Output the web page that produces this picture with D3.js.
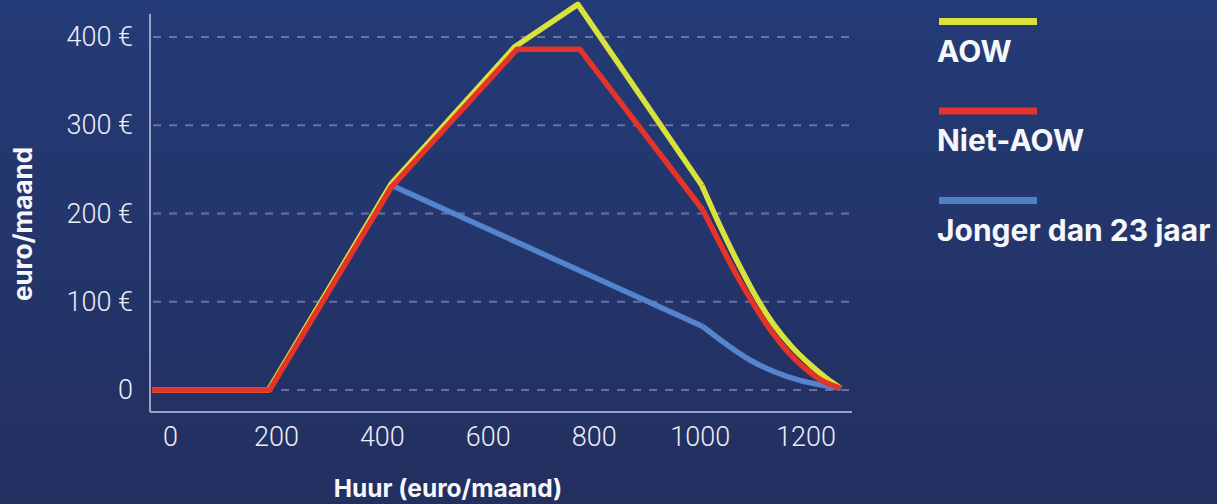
<!DOCTYPE html>
<html>
<head>
<meta charset="utf-8">
<script src="https://cdn.jsdelivr.net/npm/d3@7"></script>
<style>
  body { margin: 0; background: #23376f; }
  svg { display: block; }
</style>
</head>
<body>
<svg id="chart" width="1217" height="504"></svg>
<script>
// huur (x) en toeslag (y) per groep
const huurAOW   = [-34, 186, 418, 651, 770, 1004, 1040, 1075, 1108, 1140, 1174, 1208, 1240, 1266];
const aow       = [0, 0, 234, 389, 437, 232, 184, 141, 104, 74, 49, 29, 13, 2];
const huurNiet  = [-34, 188, 418, 655, 774, 1006, 1040, 1070, 1100, 1135, 1167, 1200, 1233, 1266];
const nietAOW   = [0, 0, 230, 386, 386, 204, 164, 130, 99, 67, 43, 24, 10, 2];
const huurJong  = [418, 1006, 1050, 1095, 1140, 1189, 1236, 1266];
const jong      = [232, 72, 52, 34, 21, 11, 5, 2];

const xTicks = [0, 200, 400, 600, 800, 1000, 1200];
const yTicks = [0, 100, 200, 300, 400];
const legendLabels = ["AOW", "Niet-AOW", "Jonger dan 23 jaar"];

const series = [
  { name: "AOW", xs: huurAOW, ys: aow, color: "#d9e23b" },
  { name: "Jonger dan 23 jaar", xs: huurJong, ys: jong, color: "#5484cc" },
  { name: "Niet-AOW", xs: huurNiet, ys: nietAOW, color: "#e6332a" }
];

const svg = d3.select("#chart");
const W = 1217, H = 504;

// achtergrond met verloop
const defs = svg.append("defs");
const grad = defs.append("linearGradient").attr("id", "bg")
  .attr("x1", 0).attr("y1", 0).attr("x2", 0).attr("y2", 1);
grad.append("stop").attr("offset", "0%").attr("stop-color", "#233b77");
grad.append("stop").attr("offset", "100%").attr("stop-color", "#232f5f");
svg.append("rect").attr("width", W).attr("height", H).attr("fill", "url(#bg)");

const x = d3.scaleLinear().domain([0, 1200]).range([170, 805.6]);
const y = d3.scaleLinear().domain([0, 400]).range([390, 37]);

const plotLeft = 150, plotRight = 852, plotTop = 14, plotBottom = 412;

// gridlijnen
svg.append("g").selectAll("line").data(yTicks).join("line")
  .attr("x1", plotLeft + 3).attr("x2", plotRight + 1)
  .attr("y1", d => y(d)).attr("y2", d => y(d))
  .attr("stroke", "#6870a3").attr("stroke-width", 2)
  .attr("stroke-dasharray", "8,8");

// assen
const yAxis = svg.append("g").attr("transform", `translate(${plotLeft},0)`)
  .call(d3.axisLeft(y).tickValues(yTicks).tickSize(0).tickPadding(17)
    .tickFormat(d => d === 0 ? "0" : d + " €"));
yAxis.select(".domain").remove();

const xAxis = svg.append("g").attr("transform", `translate(0,${plotBottom})`)
  .call(d3.axisBottom(x).tickValues(xTicks).tickSize(0).tickPadding(15)
    .tickFormat(d3.format("d")));
xAxis.select(".domain").remove();

svg.selectAll(".tick text")
  .attr("fill", "#eceef6")
  .style("font-family", "Roboto, 'Liberation Sans', sans-serif")
  .style("font-weight", 300)
  .style("font-size", "27px");

svg.append("line").attr("x1", plotLeft).attr("x2", plotLeft)
  .attr("y1", plotTop).attr("y2", plotBottom)
  .attr("stroke", "#9aa0c8").attr("stroke-width", 2);
svg.append("line").attr("x1", plotLeft).attr("x2", plotRight)
  .attr("y1", plotBottom).attr("y2", plotBottom)
  .attr("stroke", "#9aa0c8").attr("stroke-width", 2);

// lijnen: recht tot de knik rond 1000, daarna vloeiend
const straight = d3.line().x(d => x(d[0])).y(d => y(d[1]));
const smooth = d3.line().x(d => x(d[0])).y(d => y(d[1])).curve(d3.curveMonotoneX);

series.forEach(s => {
  const pts = s.xs.map((v, i) => [v, s.ys[i]]);
  const head = pts.filter(p => p[0] <= 1010);
  const tail = pts.filter(p => p[0] >= 1000);
  [[head, straight], [tail, smooth]].forEach(([p, gen]) => {
    svg.append("path").attr("d", gen(p))
      .attr("fill", "none").attr("stroke", s.color)
      .attr("stroke-width", 5.5)
      .attr("stroke-linejoin", "round");
  });
});

// legenda
const legendColors = ["#d9e23b", "#e6332a", "#4f7fc7"];
const legend = svg.append("g").attr("transform", "translate(937,0)");
legendLabels.forEach((label, i) => {
  const g = legend.append("g").attr("transform", `translate(0,${18 + i * 89.5})`);
  g.append("rect").attr("x", 2).attr("y", 0).attr("width", 98).attr("height", 7)
    .attr("fill", legendColors[i]);
  g.append("text").attr("x", 0).attr("y", 43.5).text(label)
    .attr("fill", "#f6f7fb")
    .style("font-family", "Inter, 'Open Sans', sans-serif")
    .style("font-weight", 700)
    .style("font-size", "30px");
});

// astitels
svg.append("text").attr("x", 448).attr("y", 497).attr("text-anchor", "middle")
  .text("Huur (euro/maand)")
  .attr("fill", "#f6f7fb")
  .style("font-family", "Inter, 'Open Sans', sans-serif")
  .style("font-weight", 700).style("font-size", "24.5px");

svg.append("text").attr("transform", "translate(32,224) rotate(-90)")
  .attr("text-anchor", "middle")
  .text("euro/maand")
  .attr("fill", "#f6f7fb")
  .style("font-family", "Inter, 'Open Sans', sans-serif")
  .style("font-weight", 700).style("font-size", "26px");
</script>
</body>
</html>
